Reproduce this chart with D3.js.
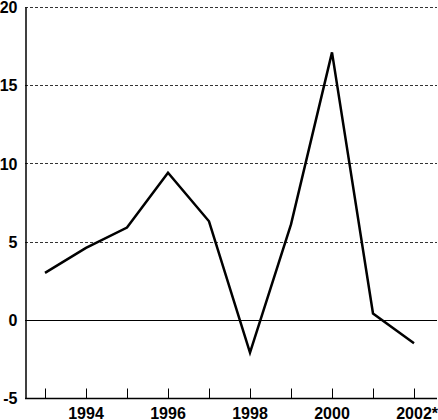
<!DOCTYPE html>
<html>
<head>
<meta charset="utf-8">
<script src="https://cdn.jsdelivr.net/npm/d3@7"></script>
<style>
  body { margin: 0; background: #fff; }
  text { font-family: "Liberation Sans", Arial, sans-serif; font-weight: bold; }
</style>
</head>
<body>
<svg></svg>
<script>
// Canvas size and margins
var canvasSize = {width: 438, height: 420}
var margin = {top: 7, right: 1, bottom: 22, left: 25}

// Data
var years = [1993, 1994, 1995, 1996, 1997, 1998, 1999, 2000, 2001, 2002]
var values = [3.0, 4.6, 5.9, 9.4, 6.3, -2.1, 6.1, 17.1, 0.4, -1.5]
var yTicks = [-5, 0, 5, 10, 15, 20]
var xLabelYears = [1994, 1996, 1998, 2000, 2002]
var xLabels = ["1994", "1996", "1998", "2000", "2002*"]

var svg = d3.select("svg")
    .attr("width", canvasSize.width)
    .attr("height", canvasSize.height)

// x: 1993 sits at 45px, 2002 at 414px
var x = d3.scaleLinear()
    .domain([1993, 2002])
    .range([45, 414])

var y = d3.scaleLinear()
    .domain([-5, 20])
    .range([canvasSize.height - margin.bottom, margin.top])

var right = canvasSize.width - margin.right

// dashed gridlines
svg.selectAll("line.grid")
    .data(yTicks.filter(d => d > 0))
    .enter().append("line")
    .attr("class", "grid")
    .attr("x1", margin.left)
    .attr("x2", right)
    .attr("y1", d => Math.round(y(d)) + 0.5)
    .attr("y2", d => Math.round(y(d)) + 0.5)
    .attr("stroke", "#333")
    .attr("stroke-width", 1)
    .attr("stroke-dasharray", "3,2")

// zero line
svg.append("line")
    .attr("x1", margin.left)
    .attr("x2", right)
    .attr("y1", Math.round(y(0)) + 0.5)
    .attr("y2", Math.round(y(0)) + 0.5)
    .attr("stroke", "#000")
    .attr("stroke-width", 1)

// y axis (plain hyphen for the minus, like the original)
var yAxis = d3.axisLeft(y).tickValues(yTicks).tickSize(0).tickPadding(8)
    .tickFormat(d => String(d))
var yG = svg.append("g")
    .attr("transform", `translate(${margin.left + 0.5},0)`)
    .call(yAxis)
yG.select(".domain").attr("stroke", "#000").attr("stroke-width", 1.5)
yG.selectAll("text")
    .attr("font-size", 16)
    .attr("fill", "#000")
    .attr("font-family", "Liberation Sans, Arial, sans-serif")
    .attr("font-weight", "bold")
    .attr("dy", "0.36em")

// x axis: ticks point up into the plot
var baseY = Math.round(y(-5)) + 0.5
svg.append("line")
    .attr("x1", margin.left)
    .attr("x2", right)
    .attr("y1", baseY)
    .attr("y2", baseY)
    .attr("stroke", "#000")
    .attr("stroke-width", 1.5)

svg.selectAll("line.tick")
    .data(years)
    .enter().append("line")
    .attr("class", "tick")
    .attr("x1", d => Math.round(x(d)) + 0.5)
    .attr("x2", d => Math.round(x(d)) + 0.5)
    .attr("y1", baseY)
    .attr("y2", baseY - 10)
    .attr("stroke", "#000")
    .attr("stroke-width", 1)

// labels: the year digits are centred on the tick, a trailing "*" hangs to the right
var xl = svg.selectAll("text.xlab")
    .data(xLabelYears)
    .enter().append("text")
    .attr("class", "xlab")
    .attr("y", baseY + 20)
    .attr("text-anchor", "start")
    .attr("font-size", 16)
    .text((d, i) => xLabels[i])
xl.each(function(d, i) {
    var t = d3.select(this)
    var digits = xLabels[i].replace("*", "")
    var full = this.getComputedTextLength()
    var w = full * digits.length / xLabels[i].length
    if (digits.length != xLabels[i].length) {
        t.text(digits); w = this.getComputedTextLength(); t.text(xLabels[i])
    }
    t.attr("x", x(d) - w / 2)
})

// the series line
var line = d3.line()
    .x((d, i) => x(years[i]))
    .y(d => y(d))

svg.append("path")
    .datum(values)
    .attr("d", line)
    .attr("fill", "none")
    .attr("stroke", "#000")
    .attr("stroke-width", 2.5)
    .attr("stroke-linejoin", "miter")
</script>
</body>
</html>
